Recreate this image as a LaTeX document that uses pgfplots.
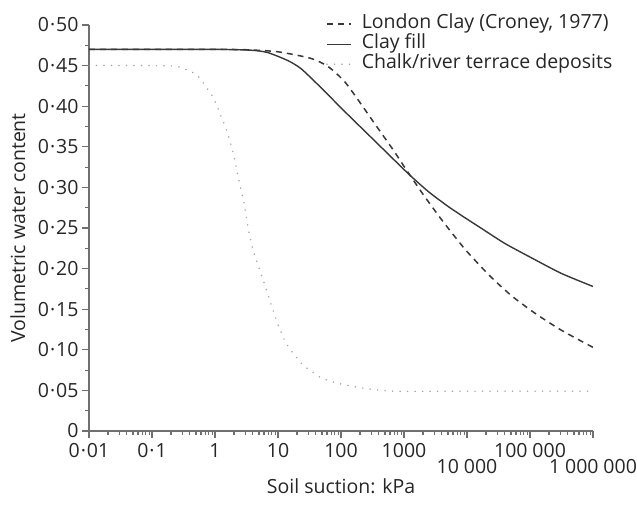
\documentclass[border=0pt]{standalone}
\usepackage{fontspec}
\setmainfont{Open Sans}
\usepackage{pgfplots}
\pgfplotsset{compat=1.18}
\definecolor{txt}{HTML}{262626}
\definecolor{axgray}{HTML}{707070}
\definecolor{linedark}{HTML}{383838}
\definecolor{dotgray}{HTML}{A5A5A5}
\newcommand\md{\kern0.05em·\kern0.05em}
\newcommand\ths{\hspace{0.25em}}

\begin{document}
\begin{tikzpicture}[font=\fontsize{19.5}{22}\selectfont, text=txt]
\begin{axis}[
  name=ax, at={(0,0)}, anchor=south west,
  scale only axis, width=504pt, height=406pt,
  xmode=log, xmin=0.01, xmax=1000000, ymin=0, ymax=0.5,
  axis lines=left,
  axis line style={axgray, line width=1.6pt, -},
  tick style={axgray, line width=1.1pt},
  tick align=outside,
  major tick length=7pt, minor tick length=4pt,
  xtick={0.01,0.1,1,10,100,1000,10000,100000,1000000},
  xticklabels={0\md01,0\md1,1,10,100,1000,,100\ths000,},
  extra x ticks={10000,1000000},
  extra x tick labels={10\ths000,1\ths000\ths000},
  extra x tick style={tick label style={yshift=-16pt}},
  xticklabel style={yshift=-2pt},
  minor xtick={0.02,0.03,0.04,0.05,0.06,0.07,0.08,0.09,
    0.2,0.3,0.4,0.5,0.6,0.7,0.8,0.9,
    2,3,4,5,6,7,8,9,
    20,30,40,50,60,70,80,90,
    200,300,400,500,600,700,800,900,
    2000,3000,4000,5000,6000,7000,8000,9000,
    20000,30000,40000,50000,60000,70000,80000,90000,
    200000,300000,400000,500000,600000,700000,800000,900000},
  ytick={0,0.05,0.1,0.15,0.2,0.25,0.3,0.35,0.4,0.45,0.5},
  yticklabels={0,0\md05,0\md10,0\md15,0\md20,0\md25,0\md30,0\md35,0\md40,0\md45,0\md50},
  minor y tick num=1,
  xlabel={Soil suction: kPa},
  xlabel style={at={(axis description cs:0.5,-0.137)}, anchor=center},
  ylabel={Volumetric water content},
  ylabel style={at={(axis description cs:-0.141,0.5)}, anchor=center},
  legend style={draw=none, fill=none, inner sep=0pt,
    at={(axis description cs:0.470,1.027)}, anchor=north west,
    row sep=0pt,
    nodes={inner sep=0pt, text height=14pt, text depth=6pt},
    /tikz/every odd column/.append style={column sep=10pt}},
  legend cell align=left,
  legend image code/.code={\draw[#1] (0pt,0pt) -- (24pt,0pt);},
]
% London Clay (Croney, 1977)
\addplot[linedark, line width=1.5pt, dash pattern=on 6pt off 5pt, smooth, tension=0.4] coordinates {
  (0.01,0.470) (0.1,0.470) (1,0.470) (3.16,0.4695) (10,0.467) (33,0.459) (62,0.449)
  (112,0.431) (186,0.408) (339,0.379) (676,0.346) (1000,0.326)
  (1905,0.294) (3715,0.263) (6310,0.240) (10000,0.221) (22390,0.192)
  (50120,0.167) (120200,0.145) (316200,0.124) (1000000,0.103)};
\addlegendentry{London Clay (Croney, 1977)}
% Clay fill
\addplot[linedark, line width=1.4pt, smooth, tension=0.4] coordinates {
  (0.01,0.470) (0.1,0.470) (1,0.470) (3.7,0.469) (6.9,0.466) (14.5,0.456) (23.4,0.446)
  (47.9,0.423) (100,0.398) (162,0.382) (316,0.360) (562,0.341)
  (1000,0.322) (1413,0.311) (2512,0.294) (5129,0.276) (10000,0.261)
  (17380,0.249) (39810,0.231) (107150,0.213) (316200,0.194) (1000000,0.178)};
\addlegendentry{Clay fill}
% Chalk/river terrace deposits
\addplot[dotgray, line width=1.7pt, line cap=round, dash pattern=on 0pt off 7.5pt, smooth, tension=0.4] coordinates {
  (0.01,0.450) (0.1,0.450) (0.25,0.449) (0.48,0.440) (0.62,0.431)
  (0.93,0.411) (1.2,0.391) (1.55,0.369) (1.95,0.342) (2.34,0.312)
  (2.88,0.281) (3.31,0.253) (3.98,0.224) (5.13,0.198) (6.17,0.180)
  (7.41,0.161) (10,0.131) (12.9,0.111) (15.5,0.101) (20,0.090)
  (25,0.081) (47,0.066) (87,0.059) (214,0.053) (676,0.049)
  (10000,0.049) (1000000,0.049)};
\addlegendentry{Chalk/river terrace deposits}
\end{axis}
\pgfresetboundingbox
\path[use as bounding box] (-89pt,-76pt) rectangle (548pt,431pt);
\end{tikzpicture}
\end{document}
